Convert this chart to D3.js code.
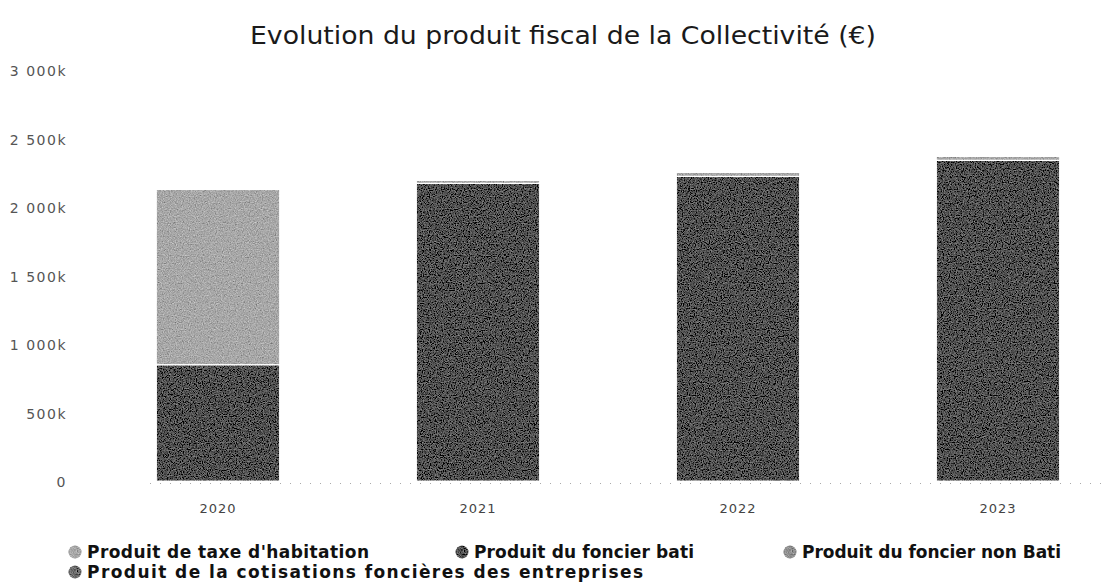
<!DOCTYPE html>
<html>
<head>
<meta charset="utf-8">
<script src="https://cdn.jsdelivr.net/npm/d3@7"></script>
<style>
body { margin: 0; background: #fff; }
text { font-family: "DejaVu Sans", sans-serif; }
</style>
</head>
<body>
<div id="chart"></div>
<script>
// values in k€
const years = ['2020', '2021', '2022', '2023']
const taxeHabitation = [1280, 22, 29, 29]
const foncierBati = [850, 2175, 2226, 2343]
const foncierNonBati = [0, 0, 0, 0]
const cfe = [0, 0, 0, 0]
const yTicks = [0, 500, 1000, 1500, 2000, 2500, 3000]
const seriesNames = ["Produit de taxe d'habitation", 'Produit du foncier bati', 'Produit du foncier non Bati', 'Produit de la cotisations foncières des entreprises']
const colors = ['#a8a8a8', '#525252', '#909090', '#6c6c6c']

const width = 1102
const height = 588
const margin = {left: 88, top: 71, right: -26, bottom: 106}

const svg = d3.select('#chart')
.append('svg')
.attr('width', width)
.attr('height', height)

// grain filter to get the scanned look
const grain = svg.append('defs').append('filter')
.attr('id', 'grain')
.attr('x', 0).attr('y', 0).attr('width', 1).attr('height', 1)
grain.append('feTurbulence')
.attr('type', 'fractalNoise')
.attr('baseFrequency', 0.85)
.attr('numOctaves', 2)
.attr('seed', 4)
.attr('result', 'noise')
grain.append('feColorMatrix')
.attr('in', 'noise')
.attr('type', 'matrix')
.attr('values', '0.33 0.33 0.33 0 0  0.33 0.33 0.33 0 0  0.33 0.33 0.33 0 0  0 0 0 0 1')
.attr('result', 'gray')
grain.append('feComposite')
.attr('in', 'SourceGraphic')
.attr('in2', 'gray')
.attr('operator', 'arithmetic')
.attr('k1', 0).attr('k2', 1).attr('k3', 0.9).attr('k4', -0.45)
.attr('result', 'mix')
grain.append('feComposite')
.attr('in', 'mix')
.attr('in2', 'SourceGraphic')
.attr('operator', 'in')

// stack: first series on top, last at the bottom
const rows = years.map((y, i) => ({year: y, th: taxeHabitation[i], fb: foncierBati[i], nb: foncierNonBati[i], cfe: cfe[i]}))
const keys = ['cfe', 'nb', 'fb', 'th']
const keyColor = {th: colors[0], fb: colors[1], nb: colors[2], cfe: colors[3]}
const stacked = d3.stack().keys(keys)(rows)

const xScale = d3.scaleBand()
.domain(years)
.range([margin.left, width - margin.right])
.paddingInner(0.53)
.paddingOuter(0.265)

const yScale = d3.scaleLinear()
.domain([0, 3000])
.range([height - margin.bottom, margin.top])

// title
svg.append('text')
.attr('x', 563)
.attr('y', 44)
.attr('text-anchor', 'middle')
.attr('font-size', 24)
.attr('fill', '#1a1a1a')
.attr('textLength', 626)
.attr('lengthAdjust', 'spacingAndGlyphs')
.text('Evolution du produit fiscal de la Collectivité (€)')

// y axis labels
svg.append('g')
.selectAll('text')
.data(yTicks)
.enter()
.append('text')
.attr('x', 67)
.attr('y', d => yScale(d) + 5)
.attr('text-anchor', 'end')
.attr('font-size', 14)
.attr('letter-spacing', 1.5)
.attr('fill', '#555')
.text(d => d == 0 ? '0' : d3.format(',')(d).replace(',', ' ') + 'k')

// baseline, dotted like the scan
svg.append('line')
.attr('x1', margin.left + 62)
.attr('x2', width)
.attr('y1', yScale(0) + 1.5)
.attr('y2', yScale(0) + 1.5)
.attr('stroke', '#aaa')
.attr('stroke-dasharray', '1,9')

// bars
svg.append('g')
.attr('filter', 'url(#grain)')
.selectAll('g')
.data(stacked)
.enter()
.append('g')
.attr('fill', d => keyColor[d.key])
.selectAll('rect')
.data(d => d)
.enter()
.append('rect')
.attr('x', d => xScale(d.data.year))
.attr('width', xScale.bandwidth())
.attr('y', d => yScale(d[1]))
.attr('height', d => Math.max(0, yScale(d[0]) - yScale(d[1]) - 1.5))

// x labels
svg.append('g')
.selectAll('text')
.data(years)
.enter()
.append('text')
.attr('x', d => xScale(d) + xScale.bandwidth() / 2)
.attr('y', 513)
.attr('text-anchor', 'middle')
.attr('font-size', 13)
.attr('letter-spacing', 1)
.attr('fill', '#444')
.text(d => d)

// legend
const legendPos = [{x: 75, y: 552, w: 282}, {x: 462, y: 552, w: 220}, {x: 790, y: 552, w: 259}, {x: 75, y: 572, w: 556}]

const legend = svg.append('g')
.selectAll('g')
.data(seriesNames)
.enter()
.append('g')
.attr('transform', (d, i) => `translate(${legendPos[i].x},${legendPos[i].y})`)

legend.append('circle')
.attr('r', 6.5)
.attr('fill', (d, i) => colors[i])
.attr('filter', 'url(#grain)')

legend.append('text')
.attr('x', 12)
.attr('y', 6)
.attr('font-size', 17)
.attr('font-weight', 'bold')
.attr('fill', '#111')
.attr('textLength', (d, i) => legendPos[i].w)
.attr('lengthAdjust', 'spacing')
.text(d => d)
</script>
</body>
</html>
